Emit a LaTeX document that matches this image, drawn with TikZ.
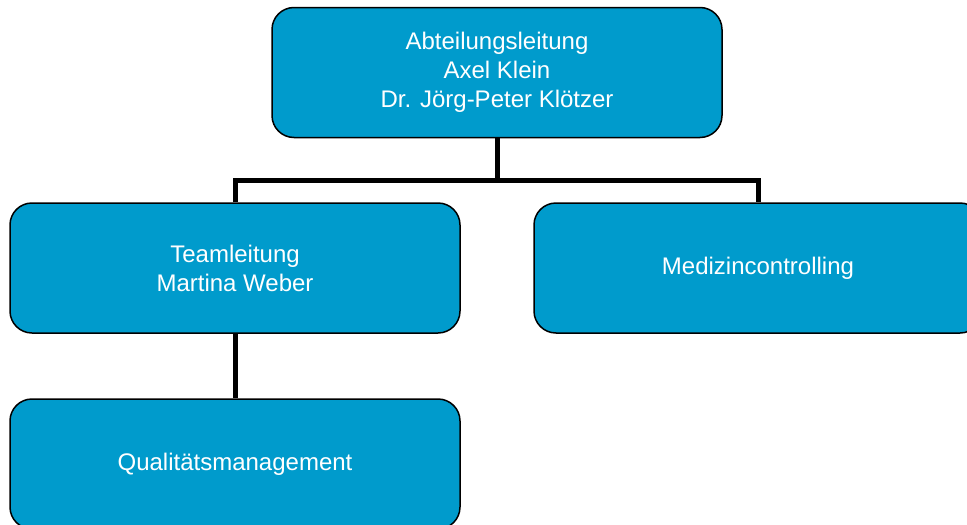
\documentclass[tikz,border=0pt]{standalone}
\usepackage{fontspec}
\setmainfont{Liberation Sans}
\usetikzlibrary{positioning}
\definecolor{orgblue}{RGB}{0,155,204}
\tikzstyle{unit} = [rectangle, rounded corners=22pt, minimum width=450pt, minimum height=130pt, text centered, align=center, draw=black, line width=1.5pt, fill=orgblue, text=white, font=\fontsize{24}{29}\selectfont]
\tikzstyle{link} = [line width=5pt, draw=black]

\begin{document}
\begin{tikzpicture}[x=1pt,y=-1pt]
\useasboundingbox (0,0) rectangle (967,525);
% boxes of the organisation chart
\node (leitung) [unit] at (497,72.5) {Abteilungsleitung\\Axel Klein\\Dr. J\"org-Peter Kl\"otzer};
\node (team) [unit] at (235,268) {Teamleitung\\Martina Weber};
\node (medizin) [unit, minimum width=448pt] at (758,268) {Medizincontrolling};
\node (quali) [unit] at (235,464) {Qualit\"atsmanagement};

% connecting lines
\coordinate (joint) at (497,180);
\draw [link] (leitung.south) -- (joint);
\draw [link] (team.north) |- (joint) -| (medizin.north);
\draw [link] (team.south) -- (quali.north);
\end{tikzpicture}
\end{document}
